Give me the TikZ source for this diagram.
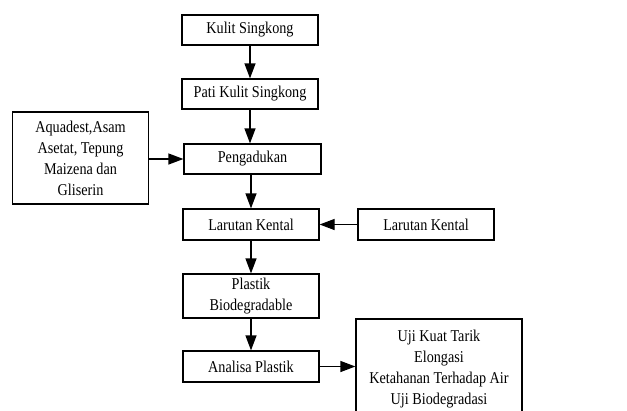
\documentclass[tikz,border=0pt]{standalone}
\usepackage{fontspec}
\setmainfont{Liberation Serif}[FakeStretch=0.86]
\usetikzlibrary{arrows.meta}
\tikzset{
  box/.style={draw, line width=1.2pt, minimum width=136pt, minimum height=30pt, inner sep=1pt, align=center,
    font=\fontsize{16.5pt}{21pt}\selectfont},
  arr/.style={line width=1.2pt, -{Triangle[length=15pt,width=11pt]}}
}
\begin{document}
\begin{tikzpicture}[x=1pt,y=-1pt]
\useasboundingbox (0,0) rectangle (627,410);
\clip (0,0) rectangle (627,410);
\node[box] (kulit) at (250,30) {Kulit Singkong};
\node[box] (pati) at (250,94) {Pati Kulit Singkong};
\node[box, minimum width=137pt] (peng) at (252.5,159) {Pengadukan};
\node[box, minimum height=92pt] (aq) at (80.5,158) {Aquadest,Asam\\Asetat, Tepung\\Maizena dan\\Gliserin};
\node[box, minimum height=31pt] (lar) at (251,224.5) {Larutan Kental};
\node[box, minimum height=31pt] (lar2) at (426,224.5) {Larutan Kental};
\node[box, minimum height=44pt] (plast) at (251,296) {Plastik\\Biodegradable};
\node[box, minimum height=31pt] (ana) at (251,366.5) {Analisa Plastik};
\node[box, minimum width=166pt, minimum height=101pt] (uji) at (439,369.5) {Uji Kuat Tarik\\Elongasi\\Ketahanan Terhadap Air\\Uji Biodegradasi};
\draw[arr] (kulit) -- (pati);
\draw[arr] (pati.south) -- (pati.south |- peng.north);
\draw[arr] (peng.south -| lar) -- (lar);
\draw[arr] (aq.east |- peng) -- (peng.west);
\draw[arr] (lar2) -- (lar);
\draw[arr] (lar) -- (plast);
\draw[arr] (plast) -- (ana);
\draw[arr] (ana.east) -- (ana.east -| uji.west);
\end{tikzpicture}
\end{document}
